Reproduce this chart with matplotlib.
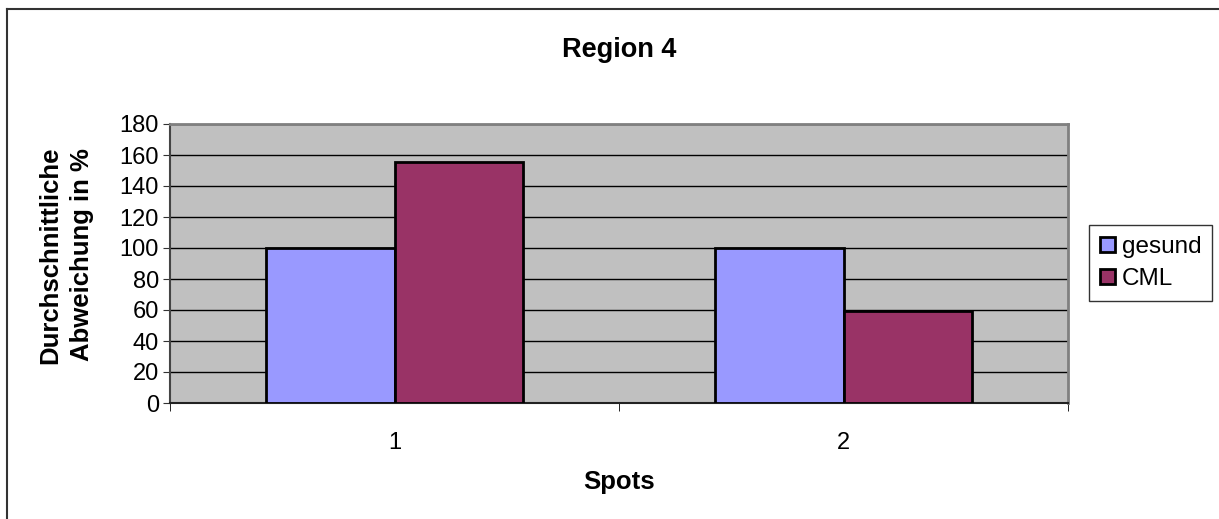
import numpy as np
import matplotlib
matplotlib.use("Agg")
import matplotlib.pyplot as plt
from matplotlib.lines import Line2D

plt.rcParams['font.family'] = ['Liberation Sans', 'DejaVu Sans']

spots = ["1", "2"]
gesund = [100, 100]
cml = [155.8, 59.6]
yticks = list(range(0, 181, 20))

W, H = 1219, 519
fig = plt.figure(figsize=(W / 100, H / 100), dpi=100)

# outer chart frame (right/bottom edges fall outside the picture)
fig.add_artist(Line2D([7 / W, 7 / W], [0, 1 - 9 / H], transform=fig.transFigure,
                      color="#333333", lw=1.5))
fig.add_artist(Line2D([7 / W, 1], [1 - 9 / H, 1 - 9 / H], transform=fig.transFigure,
                      color="#333333", lw=1.5))

ax = fig.add_axes([170 / W, (H - 403) / H, 898 / W, 279 / H])
ax.set_facecolor("#C0C0C0")

x = np.arange(1, len(spots) + 1)
bw = 1 / 3.5
ax.bar(x - bw / 2, gesund, bw, color="#9999FF", edgecolor="black", linewidth=2,
       label="gesund", zorder=3)
ax.bar(x + bw / 2, cml, bw, color="#993366", edgecolor="black", linewidth=2,
       label="CML", zorder=3)

ax.set_xlim(0.5, len(spots) + 0.5)
ax.set_ylim(0, 180)
ax.set_yticks(yticks)
ax.yaxis.grid(True, color="black", linewidth=1)
ax.set_axisbelow(True)

ax.set_xticks(x)
ax.set_xticklabels(spots)
ax.set_xticks(np.arange(0.5, len(spots) + 1, 1), minor=True)
ax.tick_params(axis="x", which="major", length=0, pad=21, labelsize=17)
ax.tick_params(axis="x", which="minor", length=6, direction="out", color="black")
ax.tick_params(axis="y", length=5, direction="out", labelsize=17, pad=3, color="#333333")

for side in ["top", "right"]:
    ax.spines[side].set_color("#808080")
    ax.spines[side].set_linewidth(2)
ax.spines["left"].set_color("#444444")
ax.spines["bottom"].set_color("#222222")
ax.spines["left"].set_linewidth(1.5)
ax.spines["bottom"].set_linewidth(1.5)

fig.text(619 / W, 1 - 50 / H, "Region 4", ha="center", va="center",
         fontsize=19.5, fontweight="bold")
fig.text(619 / W, 1 - 482 / H, "Spots", ha="center", va="center",
         fontsize=18.5, fontweight="bold")
fig.text(66 / W, 1 - 255 / H, "Durchschnittliche\nAbweichung in %", ha="center",
         va="center", rotation=90, fontsize=18.5, fontweight="bold", linespacing=1.4)

handles, labels = ax.get_legend_handles_labels()
leg = fig.legend(handles, labels, loc="upper left",
                 bbox_to_anchor=(1089 / W, 1 - 225 / H), fontsize=17.5,
                 frameon=True, fancybox=False, edgecolor="black",
                 handlelength=0.6, handleheight=0.6, handletextpad=0.3,
                 borderpad=0.45, labelspacing=0.42, borderaxespad=0)
leg.get_frame().set_linewidth(1)
for h in leg.legend_handles:
    h.set_linewidth(2)

fig.savefig("out.png", dpi=100)
